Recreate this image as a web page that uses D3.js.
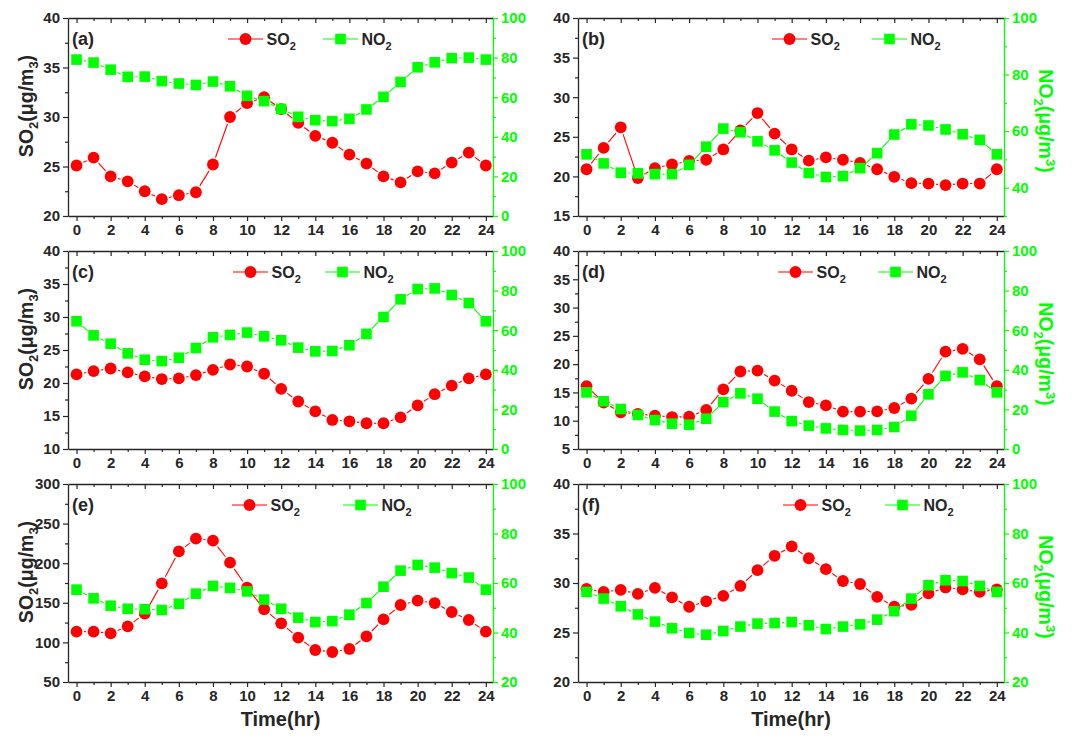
<!DOCTYPE html>
<html>
<head>
<meta charset="utf-8">
<script src="https://cdn.jsdelivr.net/npm/d3@7"></script>
<style>
  body { margin: 0; background: #fff; }
  svg { display: block; font-family: Arial, "Liberation Sans", sans-serif; font-weight: bold; }
</style>
</head>
<body>
<svg id="chart" width="1083" height="736"></svg>
<script>
// Hour of day (x axis)
const hours = [0,1,2,3,4,5,6,7,8,9,10,11,12,13,14,15,16,17,18,19,20,21,22,23,24];
const hourTicks = [0,2,4,6,8,10,12,14,16,18,20,22,24];
const hourMinorTicks = [1,3,5,7,9,11,13,15,17,19,21,23];

// Diurnal SO2 / NO2 concentrations (µg/m³), six sites
const so2A = [25.1,25.9,24.0,23.5,22.5,21.7,22.1,22.4,25.2,30.0,31.4,32.0,30.8,29.4,28.1,27.4,26.2,25.3,24.0,23.4,24.5,24.3,25.4,26.4,25.1];
const no2A = [79.0,77.5,73.9,70.3,70.4,68.1,66.9,66.2,67.9,65.5,60.7,58.0,54.1,50.1,48.4,47.9,49.1,53.8,60.2,67.7,75.1,77.6,79.7,80.0,79.0];

const so2B = [20.9,23.6,26.2,19.8,21.05,21.5,21.95,22.1,23.4,25.8,28.0,25.4,23.4,22.0,22.4,22.1,21.7,20.9,19.95,19.15,19.1,18.9,19.1,19.1,20.9];
const no2B = [51.8,48.6,45.3,45.1,44.8,44.8,48.1,54.5,60.9,59.6,56.4,53.2,48.9,45.2,43.8,44.1,46.9,52.2,58.8,62.4,62.0,60.6,58.9,56.9,51.8];

const so2C = [21.3,21.8,22.2,21.6,21.0,20.6,20.7,21.2,22.0,22.8,22.5,21.4,19.1,17.2,15.7,14.4,14.2,13.9,13.9,14.8,16.6,18.3,19.6,20.7,21.3];
const no2C = [64.5,57.4,53.2,48.3,45.1,44.4,46.1,51.0,56.4,57.6,58.8,56.9,54.9,51.2,49.3,49.5,52.4,58.1,66.7,75.6,80.8,81.1,77.8,73.7,64.5];

const so2D = [16.1,13.2,11.5,11.2,10.9,10.65,10.7,11.9,15.55,18.7,18.85,17.1,15.3,13.3,12.7,11.6,11.6,11.65,12.25,13.9,17.4,22.2,22.7,20.85,16.1];
const no2D = [28.6,24.1,20.2,17.2,14.6,12.8,12.3,15.3,23.7,28.1,25.4,18.9,14.1,11.8,10.4,9.6,9.3,9.6,11.1,16.8,27.6,36.9,38.7,34.8,28.6];

const so2E = [113.6,113.6,111.4,120.3,136.3,174.6,215.0,231.0,228.5,200.7,169.1,141.8,124.1,106.0,90.4,87.9,91.7,107.7,129.1,147.2,152.7,149.7,138.4,128.3,113.6];
const no2E = [57.3,53.8,50.8,49.6,49.4,49.1,51.6,55.7,58.8,58.0,56.6,53.3,49.6,46.0,44.2,44.6,47.2,51.9,58.5,65.0,67.3,66.2,64.0,62.2,57.3];

const so2F = [29.4,29.1,29.3,28.9,29.5,28.55,27.6,28.15,28.7,29.7,31.3,32.75,33.7,32.5,31.4,30.2,29.9,28.6,27.6,27.8,28.95,29.55,29.35,29.1,29.35];
const no2F = [56.4,53.7,50.6,47.3,44.4,41.7,39.8,39.1,40.6,42.4,43.6,43.8,44.2,42.9,41.4,42.4,43.3,45.2,48.6,53.7,59.1,61.1,60.8,58.8,56.4];

// Axis ticks (left = SO2, right = NO2)
const so2TicksA = [20,25,30,35,40];
const so2TicksB = [15,20,25,30,35,40];
const so2TicksC = [10,15,20,25,30,35,40];
const so2TicksD = [5,10,15,20,25,30,35,40];
const so2TicksE = [50,100,150,200,250,300];
const so2TicksF = [20,25,30,35,40];
const no2Ticks0 = [0,20,40,60,80,100];
const no2TicksB = [40,60,80,100];
const no2Ticks20 = [20,40,60,80,100];

const panelLabels = ["(a)","(b)","(c)","(d)","(e)","(f)"];

const panels = [
  { label: panelLabels[0], so2: so2A, no2: no2A, so2Ticks: so2TicksA, no2Ticks: no2Ticks0, no2Min: 0,  col: 0, row: 0, leg: [160, 255] },
  { label: panelLabels[1], so2: so2B, no2: no2B, so2Ticks: so2TicksB, no2Ticks: no2TicksB, no2Min: 30, col: 1, row: 0, leg: [194, 294] },
  { label: panelLabels[2], so2: so2C, no2: no2C, so2Ticks: so2TicksC, no2Ticks: no2Ticks0, no2Min: 0,  col: 0, row: 1, leg: [165, 257] },
  { label: panelLabels[3], so2: so2D, no2: no2D, so2Ticks: so2TicksD, no2Ticks: no2Ticks0, no2Min: 0,  col: 1, row: 1, leg: [200, 300] },
  { label: panelLabels[4], so2: so2E, no2: no2E, so2Ticks: so2TicksE, no2Ticks: no2Ticks20, no2Min: 20, col: 0, row: 2, leg: [164, 275] },
  { label: panelLabels[5], so2: so2F, no2: no2F, so2Ticks: so2TicksF, no2Ticks: no2Ticks20, no2Min: 20, col: 1, row: 2, leg: [205, 307] }
];

const RED = "#ff0000", GREEN = "#00ff00", INK = "#262626";
const FONT = 'Arial, "Liberation Sans", sans-serif';
const cols = [{ l: 68, r: 493 }, { l: 578, r: 1004 }];
const rows = [{ t: 18, b: 216 }, { t: 251, b: 449 }, { t: 484, b: 682 }];

const svg = d3.select("#chart");

function styleAxis(g, color, fontSize) {
  g.attr("font-family", FONT).attr("font-size", fontSize).attr("font-weight", "bold");
  g.selectAll(".domain").attr("stroke", color).attr("stroke-width", 1.3);
  g.selectAll(".tick line").attr("stroke", color).attr("stroke-width", 1.2);
  g.selectAll(".tick text").attr("fill", color);
}

function midpoints(ticks, lo, hi) {
  const step = ticks[1] - ticks[0];
  const out = [];
  if (ticks[0] - step / 2 >= lo) out.push(ticks[0] - step / 2);
  for (let i = 0; i < ticks.length - 1; i++) out.push((ticks[i] + ticks[i + 1]) / 2);
  if (ticks[ticks.length - 1] + step / 2 <= hi) out.push(ticks[ticks.length - 1] + step / 2);
  return out;
}

// Text made of plain, subscript and superscript pieces: parts = [[text, baselineShift], ...]
function richText(sel, parts, big, small) {
  let cur = 0;
  parts.forEach(([t, shift]) => {
    const ts = sel.append("tspan").text(t).attr("dy", shift - cur);
    ts.attr("font-size", shift !== 0 ? small : big);
    cur = shift;
  });
}

function drawSeries(g, pts, color, shape) {
  const gap = 7.5;
  for (let i = 0; i < pts.length - 1; i++) {
    const [x0, y0] = pts[i], [x1, y1] = pts[i + 1];
    const dx = x1 - x0, dy = y1 - y0, len = Math.hypot(dx, dy);
    if (len <= 2 * gap) continue;
    const ux = dx / len, uy = dy / len;
    g.append("line")
      .attr("x1", x0 + ux * gap).attr("y1", y0 + uy * gap)
      .attr("x2", x1 - ux * gap).attr("y2", y1 - uy * gap)
      .attr("stroke", color).attr("stroke-width", 1.1);
  }
  pts.forEach(([px, py]) => drawMarker(g, px, py, color, shape));
}

function drawMarker(g, px, py, color, shape) {
  if (shape === "circle") {
    g.append("circle").attr("cx", px).attr("cy", py).attr("r", 5.9).attr("fill", color);
  } else {
    const s = 10.6;
    g.append("rect").attr("x", px - s / 2).attr("y", py - s / 2).attr("width", s).attr("height", s).attr("fill", color);
  }
}

panels.forEach(p => {
  const c = cols[p.col], r = rows[p.row];
  const so2Dom = [p.so2Ticks[0], p.so2Ticks[p.so2Ticks.length - 1]];
  const no2Dom = [p.no2Min, p.no2Ticks[p.no2Ticks.length - 1]];
  const x = d3.scaleLinear().domain([-0.5, 24.42]).range([c.l, c.r]);
  const yL = d3.scaleLinear().domain(so2Dom).range([r.b, r.t]);
  const yR = d3.scaleLinear().domain(no2Dom).range([r.b, r.t]);
  const g = svg.append("g");

  // bottom axis
  g.append("g").attr("transform", `translate(0,${r.b})`)
    .call(d3.axisBottom(x).tickValues(hourTicks).tickSize(5).tickSizeOuter(0).tickPadding(3).tickFormat(d3.format("d")))
    .call(a => styleAxis(a, INK, 15));
  g.append("g").attr("transform", `translate(0,${r.b})`)
    .call(d3.axisBottom(x).tickValues(hourMinorTicks).tickSize(3).tickSizeOuter(0).tickFormat(""))
    .call(a => { styleAxis(a, INK, 15); a.select(".domain").remove(); });

  // top frame with inward ticks
  g.append("g").attr("transform", `translate(0,${r.t})`)
    .call(d3.axisTop(x).tickValues(hourTicks).tickSize(-5).tickSizeOuter(0).tickFormat(""))
    .call(a => styleAxis(a, INK, 15));
  g.append("g").attr("transform", `translate(0,${r.t})`)
    .call(d3.axisTop(x).tickValues(hourMinorTicks).tickSize(-3).tickSizeOuter(0).tickFormat(""))
    .call(a => { styleAxis(a, INK, 15); a.select(".domain").remove(); });

  // left SO2 axis
  g.append("g").attr("transform", `translate(${c.l},0)`)
    .call(d3.axisLeft(yL).tickValues(p.so2Ticks).tickSize(5).tickSizeOuter(0).tickPadding(3).tickFormat(d3.format("d")))
    .call(a => styleAxis(a, INK, 15));
  g.append("g").attr("transform", `translate(${c.l},0)`)
    .call(d3.axisLeft(yL).tickValues(midpoints(p.so2Ticks, so2Dom[0], so2Dom[1])).tickSize(3).tickSizeOuter(0).tickFormat(""))
    .call(a => { styleAxis(a, INK, 15); a.select(".domain").remove(); });

  // right NO2 axis
  g.append("g").attr("transform", `translate(${c.r},0)`)
    .call(d3.axisRight(yR).tickValues(p.no2Ticks).tickSize(5).tickSizeOuter(0).tickPadding(3).tickFormat(d3.format("d")))
    .call(a => styleAxis(a, GREEN, 15));
  g.append("g").attr("transform", `translate(${c.r},0)`)
    .call(d3.axisRight(yR).tickValues(midpoints(p.no2Ticks, no2Dom[0], no2Dom[1])).tickSize(3).tickSizeOuter(0).tickFormat(""))
    .call(a => { styleAxis(a, GREEN, 15); a.select(".domain").remove(); });

  // series: SO2 (circles) then NO2 (squares) on top
  drawSeries(g, hours.map((h, i) => [x(h), yL(p.so2[i])]), RED, "circle");
  drawSeries(g, hours.map((h, i) => [x(h), yR(p.no2[i])]), GREEN, "square");

  // panel letter
  g.append("text").attr("x", c.l + 4).attr("y", r.t + 27)
    .attr("font-size", 18).attr("fill", INK).text(p.label);

  // legend
  const ly = r.t + 21, legLen = 35;
  [[p.leg[0], RED, "circle", "SO"], [p.leg[1], GREEN, "square", "NO"]].forEach(([off, color, shape, name]) => {
    const lx = c.l + off;
    g.append("line").attr("x1", lx).attr("x2", lx + legLen).attr("y1", ly).attr("y2", ly)
      .attr("stroke", color).attr("stroke-width", 1.1);
    drawMarker(g, lx + legLen / 2, ly, color, shape);
    const t = g.append("text").attr("x", lx + legLen + 3.5).attr("y", ly + 6).attr("fill", INK);
    richText(t, [[name, 0], ["2", 5]], 16, 11);
  });

  // axis titles
  const cy = (r.t + r.b) / 2;
  if (p.col === 0) {
    const t = g.append("text").attr("text-anchor", "middle").attr("fill", INK)
      .attr("transform", `translate(${c.l - 35},${cy - 11}) rotate(-90)`);
    richText(t, [["SO", 0], ["2", 5], ["(\u03bcg/m", 0], ["3", 5], [")", 0]], 19.5, 13);
  } else {
    const t = g.append("text").attr("text-anchor", "middle").attr("fill", GREEN)
      .attr("transform", `translate(${c.r + 35},${cy + 4}) rotate(90)`);
    richText(t, [["NO", 0], ["2", 5], ["(\u03bcg/m", 0], ["3", -7], [")", 0]], 19.5, 13);
  }
  if (p.row === 2) {
    g.append("text").attr("x", (c.l + c.r) / 2).attr("y", 726).attr("text-anchor", "middle")
      .attr("font-size", 20).attr("fill", INK).text("Time(hr)");
  }
});
</script>
</body>
</html>
